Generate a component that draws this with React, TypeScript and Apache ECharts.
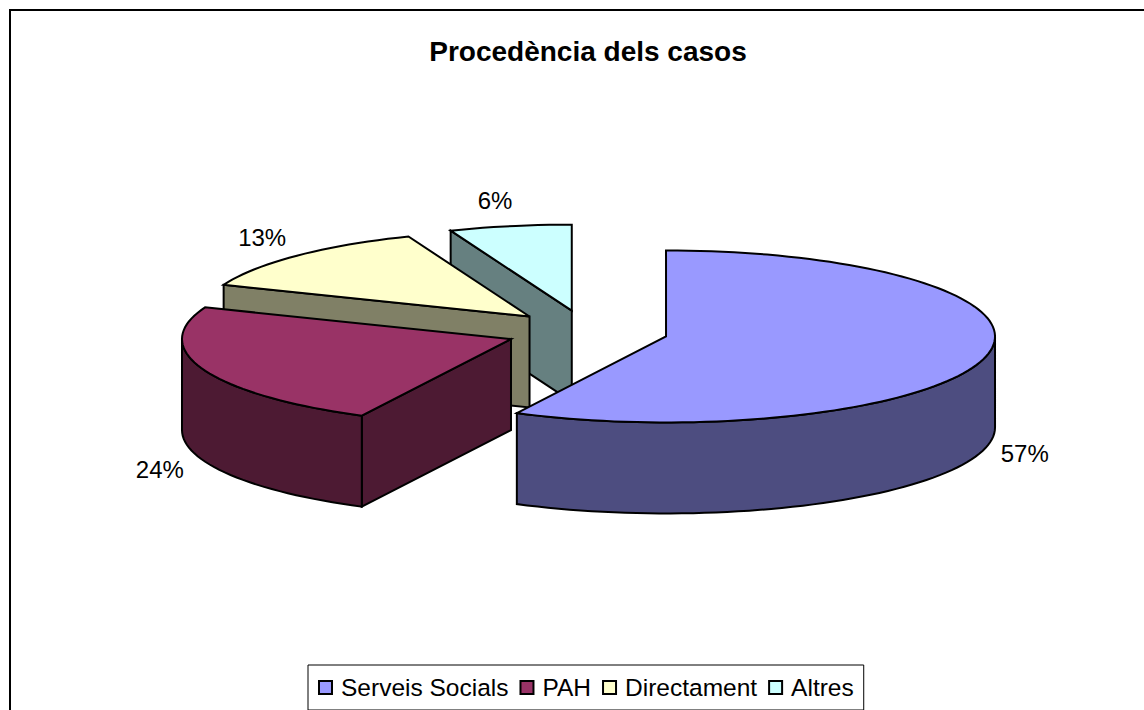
import React, { useEffect, useRef } from "react";
import * as echarts from "echarts";

const chartTitle = "Procedència dels casos";
const categories = ["Serveis Socials", "PAH", "Directament", "Altres"];
const values = [57.49, 23.51, 13, 6];
const topColors = ["#9999FF", "#993366", "#FFFFCC", "#CCFFFF"];
const sideColors = ["#4D4D80", "#4D1A33", "#808066", "#668080"];

const FONT = '"Liberation Sans", Arial, sans-serif';
const CX = 587;
const CY = 331.5;
const RX = 329;
const RY = 86;
const DEPTH = 91;
const EXPLODE = 0.247;
const LABEL_X = 1.115;
const LABEL_Y = 1.3;
const LABEL_SHIFT_RIGHT = 2;
const LABEL_SHIFT_LEFT = -8;

const total = values.reduce((a, b) => a + b, 0);
const rad = (d: number) => (d * Math.PI) / 180;

function sliceAngles(i: number) {
  const before = values.slice(0, i).reduce((a, b) => a + b, 0);
  const start = (before / total) * 360;
  const end = start + (values[i] / total) * 360;
  return { start, end, mid: (start + end) / 2 };
}

function arcPoints(ax: number, ay: number, from: number, to: number) {
  const n = Math.max(2, Math.ceil(Math.abs(to - from) / 2));
  const pts: number[][] = [];
  for (let k = 0; k <= n; k++) {
    const t = rad(from + ((to - from) * k) / n);
    pts.push([ax + RX * Math.sin(t), ay - RY * Math.cos(t)]);
  }
  return pts;
}

function renderSlice(i: number) {
  const { start, end, mid } = sliceAngles(i);
  const ax = CX + EXPLODE * RX * Math.sin(rad(mid));
  const ay = CY - EXPLODE * RY * Math.cos(rad(mid));
  const rim = (deg: number) => [ax + RX * Math.sin(rad(deg)), ay - RY * Math.cos(rad(deg))];
  const line = { stroke: "#000", lineWidth: 2, lineJoin: "miter" };
  const children: any[] = [];
  const wall = (pts: number[][]) => ({
    type: "polygon",
    shape: { points: [...pts, ...[...pts].reverse().map((p) => [p[0], p[1] + DEPTH])] },
    style: { fill: sideColors[i], ...line },
  });
  if (Math.sin(rad(start)) < -1e-6) children.push(wall([[ax, ay], rim(start)]));
  if (Math.sin(rad(end)) > 1e-6) children.push(wall([[ax, ay], rim(end)]));
  const wallFrom = Math.max(start, 90);
  const wallTo = Math.min(end, 270);
  if (wallTo > wallFrom) children.push(wall(arcPoints(ax, ay, wallFrom, wallTo)));
  children.push({
    type: "polygon",
    shape: { points: [[ax, ay], ...arcPoints(ax, ay, start, end)] },
    style: { fill: topColors[i], ...line },
  });
  const front = Math.cos(rad(mid)) < 0;
  const side = Math.sin(rad(mid)) > 0 ? LABEL_SHIFT_RIGHT : LABEL_SHIFT_LEFT;
  children.push({
    type: "text",
    x: ax + LABEL_X * RX * Math.sin(rad(mid)) + side,
    y: ay - LABEL_Y * RY * Math.cos(rad(mid)) + (front ? DEPTH : 0),
    style: {
      text: Math.round((values[i] / total) * 100) + "%",
      font: `24px ${FONT}`,
      fill: "#000",
      align: "center",
      verticalAlign: "middle",
    },
  });
  return { type: "group", children };
}

export default function App() {
  const ref = useRef<HTMLDivElement>(null);
  useEffect(() => {
    document.body.style.margin = "0";
    const chart = echarts.init(ref.current!, undefined, { renderer: "svg" });
    chart.setOption({
      animation: false,
      backgroundColor: "#fff",
      title: {
        text: chartTitle,
        left: 583,
        top: 32,
        textAlign: "center",
        textStyle: { fontFamily: FONT, fontWeight: "bold", fontSize: 28, color: "#000" },
      },
      legend: {
        left: 308,
        top: 665,
        orient: "horizontal",
        data: categories.map((name, i) => ({ name, itemStyle: { color: topColors[i] } })),
        icon: "rect",
        itemWidth: 13,
        itemHeight: 13,
        itemGap: 11,
        padding: [10, 10, 10, 10],
        borderColor: "#000",
        borderWidth: 1,
        selectedMode: false,
        itemStyle: { borderColor: "#000", borderWidth: 2 },
        textStyle: { fontFamily: FONT, fontSize: 24.5, color: "#000", padding: [0, 0, 0, 4] },
      },
      graphic: [
        {
          type: "rect",
          z: -10,
          shape: { x: 10, y: 10, width: 1300, height: 900 },
          style: { fill: "#fff", stroke: "#000", lineWidth: 2 },
        },
      ],
      series: categories.map((name, i) => ({
        type: "custom",
        name,
        coordinateSystem: "none",
        silent: true,
        z: 2 + categories.length - i,
        itemStyle: { color: topColors[i] },
        data: [{ name, value: values[i] }],
        renderItem: () => renderSlice(i),
      })),
    });
    return () => chart.dispose();
  }, []);
  return <div ref={ref} style={{ width: 1144, height: 710, overflow: "hidden" }} />;
}
